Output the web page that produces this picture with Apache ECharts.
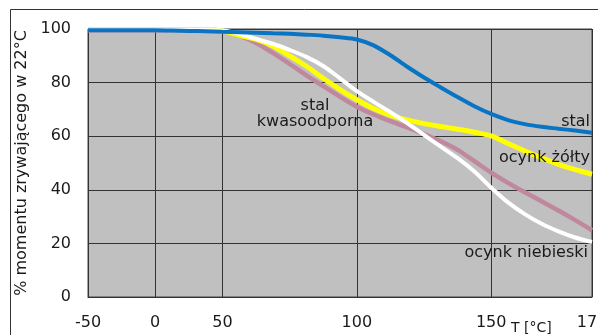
<!DOCTYPE html>
<html>
<head>
<meta charset="utf-8">
<script src="https://cdn.jsdelivr.net/npm/echarts@6/dist/echarts.min.js"></script>
<style>
html,body{margin:0;padding:0;background:#fff;}
#c{width:598px;height:335px;}
</style>
</head>
<body>
<div id="c"></div>
<script>
// Temperatures [°C] at the (non-linear, evenly drawn) axis positions
const temps = [-50,-37.5,-25,-12.5,0,12.5,25,37.5,50,56.25,62.5,68.75,75,81.25,87.5,93.75,100,106.25,112.5,118.75,125,131.25,137.5,143.75,150,154.17,158.33,162.5,166.67,170.83,175];
const xTickLabels = ['-50','0','50','100','150','175'];
const yTicks = [0,20,40,60,80,100];

const stal = [99.5,99.5,99.5,99.5,99.5,99.4,99.3,99.2,99.0,98.8,98.6,98.4,98.2,97.9,97.5,96.9,96.1,93.9,90.2,85.9,81.9,78.2,74.6,71.2,68.3,66.0,64.5,63.5,62.8,62.1,61.3];
const ocynkZolty = [99.8,99.8,99.8,99.8,99.8,99.8,99.8,99.8,99.3,97.6,96.1,93.7,90.0,86.1,81.6,77.4,73.6,70.3,67.8,66.1,64.7,63.6,62.6,61.5,60.1,57.3,54.5,51.9,49.5,47.5,45.8];
const ocynkNiebieski = [99.6,99.6,99.6,99.6,99.6,99.6,99.6,99.6,99.4,98.2,96.3,94.5,92.2,89.6,86.2,81.6,76.8,72.8,69.0,64.9,60.5,56.1,51.8,46.8,40.8,35.3,30.9,27.3,24.5,22.2,20.5];
const stalKwasoodporna = [99.5,99.5,99.5,99.5,99.5,99.5,99.5,99.5,99.3,97.5,94.8,91.1,87.0,82.7,78.7,74.7,71.0,68.1,65.6,63.3,60.8,58.1,54.9,50.7,46.4,42.6,39.1,35.7,32.3,28.7,24.9];

const FONT = 'DejaVu Sans';
const TXT = '#1a1a1a';
const GRIDC = '#333';

const chart = echarts.init(document.getElementById('c'), null, {renderer:'canvas'});
const showIdx = (idx, val) => xTickLabels.indexOf(String(val)) >= 0;

function line(name, data, color, width) {
  return {
    name, type: 'line', data, smooth: 0.3, showSymbol: false, symbol: 'none',
    lineStyle: {color, width}, itemStyle: {color}, animation: false
  };
}

chart.setOption({
  animation: false,
  grid: {left: 88, right: 6, top: 29, bottom: 38, containLabel: false, outerBoundsMode: 'none',
         show: true, backgroundColor: '#c0c0c0', borderColor: '#444', borderWidth: 1},
  xAxis: {
    type: 'category', boundaryGap: false, data: temps.map(String),
    axisLine: {show: true, lineStyle: {color: GRIDC, width: 1}},
    axisTick: {show: false},
    axisLabel: {interval: showIdx, color: TXT, fontFamily: FONT, fontSize: 16, margin: 18},
    splitLine: {show: true, interval: showIdx, lineStyle: {color: GRIDC, width: 1}}
  },
  yAxis: {
    type: 'value', min: yTicks[0], max: yTicks[yTicks.length-1], interval: 20,
    name: '% momentu zrywającego w 22°C', nameLocation: 'middle', nameGap: 55, nameRotate: 90,
    nameTextStyle: {color: TXT, fontFamily: FONT, fontSize: 16},
    axisLine: {show: true, lineStyle: {color: GRIDC, width: 1}},
    axisTick: {show: false},
    axisLabel: {color: TXT, fontFamily: FONT, fontSize: 16, margin: 17},
    splitLine: {show: true, lineStyle: {color: GRIDC, width: 1}}
  },
  series: [
    line('stal kwasoodporna', stalKwasoodporna, '#c0889e', 4.5),
    line('ocynk żółty', ocynkZolty, '#ffff00', 5),
    line('ocynk niebieski', ocynkNiebieski, '#ffffff', 4),
    line('stal', stal, '#0a74c4', 4)
  ],
  graphic: [
    {type: 'rect', shape: {x: 10.5, y: 9.5, width: 620, height: 360}, style: {fill: 'none', stroke: '#333', lineWidth: 1}, silent: true, z: 100},
    {type: 'text', x: 590, y: 122, style: {text: 'stal', fill: TXT, font: '16px "DejaVu Sans"', textAlign: 'right', textVerticalAlign: 'middle'}, z: 100},
    {type: 'text', x: 590, y: 158, style: {text: 'ocynk żółty', fill: TXT, font: '16px "DejaVu Sans"', textAlign: 'right', textVerticalAlign: 'middle'}, z: 100},
    {type: 'text', x: 588, y: 253, style: {text: 'ocynk niebieski', fill: TXT, font: '16px "DejaVu Sans"', textAlign: 'right', textVerticalAlign: 'middle'}, z: 100},
    {type: 'text', x: 315, y: 106, style: {text: 'stal', fill: TXT, font: '16px "DejaVu Sans"', textAlign: 'center', textVerticalAlign: 'middle'}, z: 100},
    {type: 'text', x: 315, y: 122, style: {text: 'kwasoodporna', fill: TXT, font: '16px "DejaVu Sans"', textAlign: 'center', textVerticalAlign: 'middle'}, z: 100},
    {type: 'text', x: 511, y: 328, style: {text: 'T [°C]', fill: TXT, font: '14px "DejaVu Sans"', textAlign: 'left', textVerticalAlign: 'middle'}, z: 100}
  ]
});
</script>
</body>
</html>
